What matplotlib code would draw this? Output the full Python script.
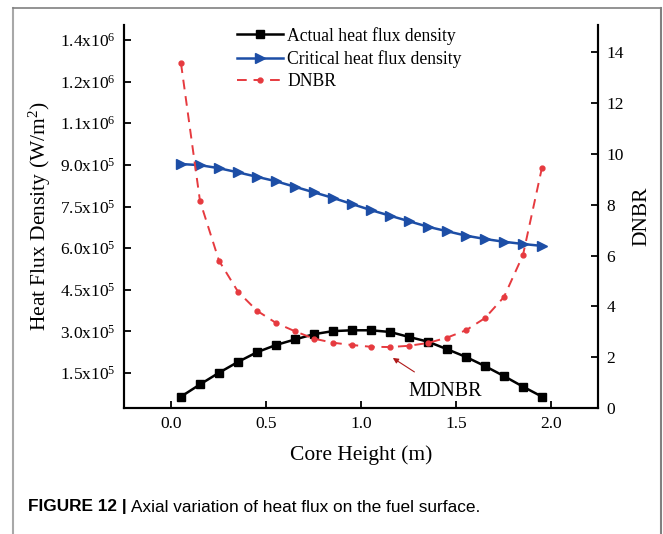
import matplotlib
matplotlib.use("Agg")
import matplotlib.pyplot as plt
from matplotlib.lines import Line2D

plt.rcParams['font.family'] = ['Liberation Serif', 'DejaVu Serif']
plt.rcParams['mathtext.fontset'] = 'custom'
plt.rcParams['mathtext.rm'] = 'Liberation Serif'
plt.rcParams['mathtext.it'] = 'Liberation Serif:italic'

# ---- data ----
core_height = [0.05, 0.15, 0.25, 0.35, 0.45, 0.55, 0.65, 0.75, 0.85, 0.95,
               1.05, 1.15, 1.25, 1.35, 1.45, 1.55, 1.65, 1.75, 1.85, 1.95]
actual_flux = [6.5e4, 1.09e5, 1.51e5, 1.90e5, 2.25e5, 2.51e5, 2.71e5, 2.90e5, 3.01e5, 3.04e5,
               3.04e5, 2.98e5, 2.80e5, 2.63e5, 2.36e5, 2.08e5, 1.75e5, 1.39e5, 1.01e5, 6.5e4]
critical_flux = [9.03e5, 8.99e5, 8.88e5, 8.73e5, 8.57e5, 8.41e5, 8.21e5, 8.01e5, 7.81e5, 7.59e5,
                 7.37e5, 7.17e5, 6.97e5, 6.77e5, 6.61e5, 6.45e5, 6.33e5, 6.23e5, 6.15e5, 6.08e5]
dnbr = [13.57, 8.15, 5.80, 4.58, 3.83, 3.35, 3.02, 2.73, 2.57, 2.48,
        2.41, 2.40, 2.45, 2.56, 2.77, 3.06, 3.54, 4.37, 6.02, 9.46]

left_ticks = [1.5e5, 3.0e5, 4.5e5, 6.0e5, 7.5e5, 9.0e5, 1.05e6, 1.2e6, 1.35e6]
left_ticklabels = [r'1.5x10$^5$', r'3.0x10$^5$', r'4.5x10$^5$', r'6.0x10$^5$', r'7.5x10$^5$',
                   r'9.0x10$^5$', r'1.1x10$^6$', r'1.2x10$^6$', r'1.4x10$^6$']
x_ticks = [0.0, 0.5, 1.0, 1.5, 2.0]
x_ticklabels = ['0.0', '0.5', '1.0', '1.5', '2.0']
right_ticks = [0, 2, 4, 6, 8, 10, 12, 14]

BLACK = '#000000'
BLUE = '#1d4ea6'
RED = '#e63a3f'

W, H = 663, 534
fig = plt.figure(figsize=(W / 100, H / 100), dpi=100)

ax = fig.add_axes([124 / W, 1 - 408 / H, (598 - 124) / W, (408 - 25) / H])
ax2 = ax.twinx()

l1, = ax.plot(core_height, actual_flux, color=BLACK, lw=1.8, marker='s', ms=6, zorder=3)
l2, = ax.plot(core_height, critical_flux, color=BLUE, lw=1.8, marker='>', ms=7, zorder=3)
l3, = ax2.plot(core_height, dnbr, color=RED, lw=1.4, ls=(0, (5, 3.5)), marker='o', ms=3.5, zorder=3)

ax.set_xlim(-0.25, 2.245)
ax.set_ylim(2.4e4, 1.404e6)
ax2.set_ylim(0, 15.08)

ax.set_xticks(x_ticks)
ax.set_xticklabels(x_ticklabels)
ax.set_yticks(left_ticks)
ax.set_yticklabels(left_ticklabels)
ax2.set_yticks(right_ticks)

for a in (ax, ax2):
    a.spines['top'].set_visible(False)
    for s in ('left', 'right', 'bottom'):
        a.spines[s].set_linewidth(1.5)
    a.tick_params(direction='in', length=5, width=1.3, labelsize=12.5, pad=6)

ax.set_xlabel('Core Height (m)', fontsize=15.5, labelpad=9)
ax.set_ylabel(r'Heat Flux Density (W/m$^2$)', fontsize=15.5, labelpad=5)
ax2.set_ylabel('DNBR', fontsize=15.5, labelpad=6)

ax2.annotate('MDNBR', xy=(1.165, 1.97), xytext=(1.44, 0.64), fontsize=14.5,
             ha='center', va='center',
             arrowprops=dict(arrowstyle='-|>', color='#b01a1a', lw=0.8,
                             mutation_scale=8, shrinkA=10, shrinkB=0))

leg = ax.legend([l1, l2, l3], ['Actual heat flux density', 'Critical heat flux density', 'DNBR'],
                loc='upper left', bbox_to_anchor=(0.205, 1.037), frameon=False,
                fontsize=12.7, handlelength=2.6, handletextpad=0.25, labelspacing=0.3)

# figure frame (top, left, right)
fig.add_artist(Line2D([13 / W, 13 / W], [0, 1 - 8 / H], color='#a8a8a8', lw=1.5))
fig.add_artist(Line2D([661 / W, 661 / W], [0, 1 - 8 / H], color='#808080', lw=1.5))
fig.add_artist(Line2D([13 / W, 661 / W], [1 - 8 / H, 1 - 8 / H], color='#808080', lw=1.2))

# caption
t1 = fig.text(28 / W, 1 - 507 / H, 'FIGURE 12 |', fontsize=12.4, fontweight='bold',
              family='Liberation Sans', va='center', ha='left')
fig.canvas.draw()
bb = t1.get_window_extent()
fig.text(bb.x1 / W + 4 / W, 1 - 507 / H, 'Axial variation of heat flux on the fuel surface.',
         fontsize=12.4, family='Liberation Sans', va='center', ha='left')

fig.savefig('out.png', dpi=100)
